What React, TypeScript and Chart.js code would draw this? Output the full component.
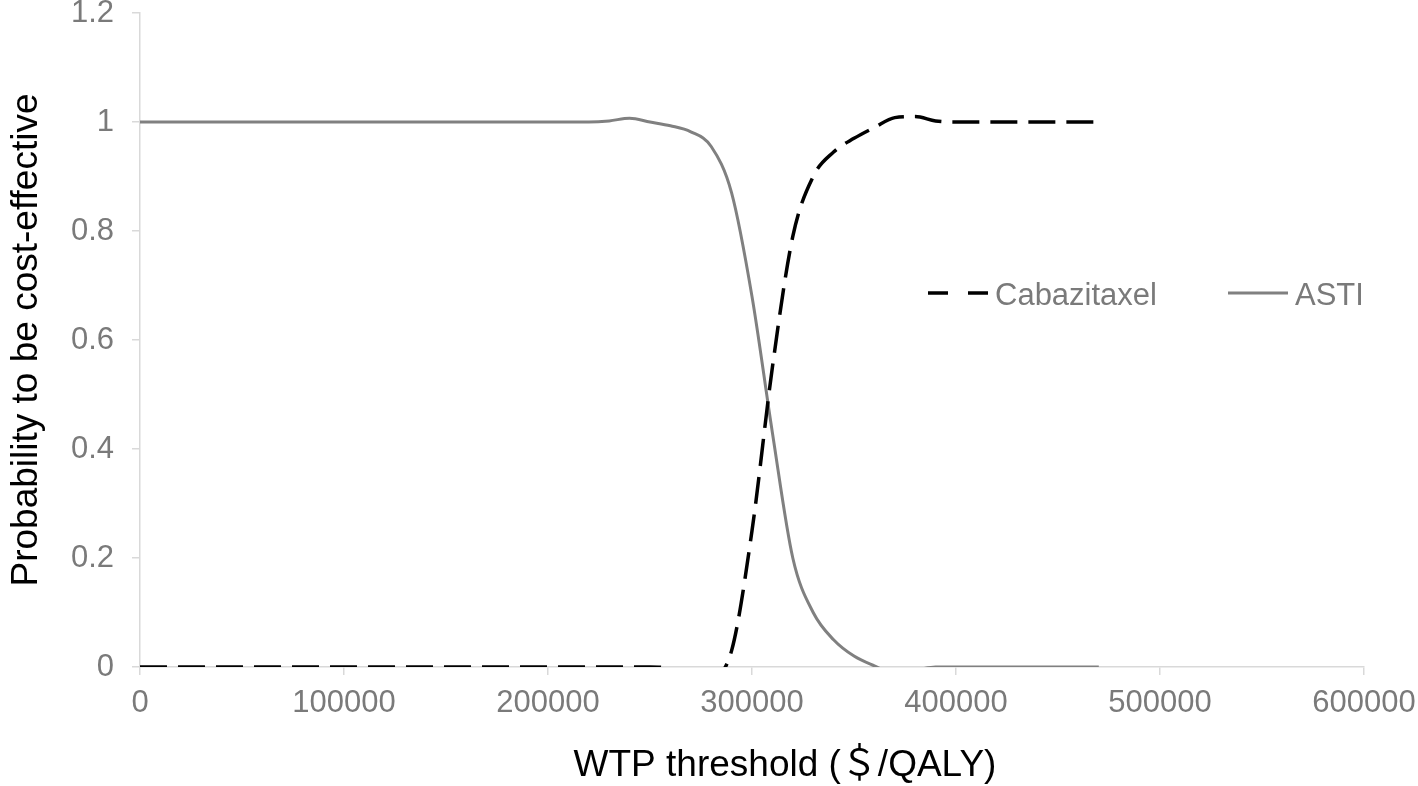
import React, { useEffect, useRef } from "react";
import { Chart, registerables } from "chart.js";

Chart.register(...registerables);

const wtp = [
  0, 10000, 20000, 30000, 40000, 50000, 60000, 70000, 80000, 90000,
  100000, 110000, 120000, 130000, 140000, 150000, 160000, 170000, 180000, 190000,
  200000, 210000, 220000, 230000, 240000, 250000, 260000, 270000, 280000, 290000,
  300000, 310000, 320000, 330000, 340000, 350000, 360000, 370000, 380000, 390000,
  400000, 410000, 420000, 430000, 440000, 450000, 460000, 470000,
];

const cabazitaxel = [
  0, 0, 0, 0, 0, 0, 0, 0, 0, 0,
  0, 0, 0, 0, 0, 0, 0, 0, 0, 0,
  0, 0, 0, 0, 0, 0, -0.004, -0.025, -0.02, 0.03,
  0.25, 0.55, 0.79, 0.9, 0.945, 0.97, 0.99, 1.008, 1.01, 1.002,
  1, 1, 1, 1, 1, 1, 1, 1,
];

const asti = [
  1, 1, 1, 1, 1, 1, 1, 1, 1, 1,
  1, 1, 1, 1, 1, 1, 1, 1, 1, 1,
  1, 1, 1, 1.002, 1.007, 1.0, 0.993, 0.982, 0.955, 0.87,
  0.68, 0.43, 0.2, 0.1, 0.05, 0.02, 0.002, -0.012, -0.006, 0,
  0, 0, 0, 0, 0, 0, 0, 0,
];

const seriesNames = ["Cabazitaxel", "ASTI"];
const xTitle = "WTP threshold (＄/QALY)";
const yTitle = "Probability to be cost-effective";

const FONT = '"Liberation Sans", Arial, "Noto Sans CJK SC", sans-serif';
const GRAY = "#7a7a7a";
const AXIS = "#d9d9d9";

const customText = {
  id: "customText",
  afterDraw(chart: any) {
    const ctx = chart.ctx;
    ctx.save();
    // x axis title
    ctx.fillStyle = "#000";
    ctx.font = `37px ${FONT}`;
    ctx.textAlign = "center";
    ctx.textBaseline = "alphabetic";
    ctx.fillText(xTitle, 785, 776);

    // legend
    const ly = 293;
    ctx.lineCap = "butt";
    ctx.strokeStyle = "#000";
    ctx.lineWidth = 3.5;
    ctx.setLineDash([20, 20]);
    ctx.beginPath();
    ctx.moveTo(928, ly);
    ctx.lineTo(988, ly);
    ctx.stroke();
    ctx.setLineDash([]);
    ctx.strokeStyle = "#808080";
    ctx.lineWidth = 3;
    ctx.beginPath();
    ctx.moveTo(1228, ly);
    ctx.lineTo(1288, ly);
    ctx.stroke();

    ctx.fillStyle = GRAY;
    ctx.font = `31px ${FONT}`;
    ctx.textAlign = "left";
    ctx.fillText(seriesNames[0], 995, 305);
    ctx.fillText(seriesNames[1], 1295, 305);
    ctx.restore();
  },
};

export default function App() {
  const ref = useRef<HTMLCanvasElement | null>(null);

  useEffect(() => {
    if (!ref.current) return;
    const chart = new Chart(ref.current, {
      type: "line",
      data: {
        datasets: [
          {
            label: seriesNames[0],
            data: wtp.map((x, i) => ({ x, y: cabazitaxel[i] })),
            borderColor: "#000000",
            borderWidth: 3.5,
            borderDash: [27, 11],
            pointRadius: 0,
            cubicInterpolationMode: "monotone",
            fill: false,
          },
          {
            label: seriesNames[1],
            data: wtp.map((x, i) => ({ x, y: asti[i] })),
            borderColor: "#808080",
            borderWidth: 3,
            pointRadius: 0,
            cubicInterpolationMode: "monotone",
            fill: false,
          },
        ],
      },
      options: {
        responsive: true,
        maintainAspectRatio: false,
        animation: false,
        layout: { padding: { top: 13, right: 54, left: 0, bottom: 0 } },
        plugins: {
          legend: { display: false },
          tooltip: { enabled: false },
        },
        scales: {
          x: {
            type: "linear",
            min: 0,
            max: 600000,
            afterFit(scale: any) {
              scale.height = 119;
              scale.paddingLeft = 0;
              scale.paddingRight = 0;
            },
            ticks: {
              stepSize: 100000,
              color: GRAY,
              padding: 10,
              font: { family: FONT, size: 31 },
              callback: (v: any) => String(v),
              maxRotation: 0,
              autoSkip: false,
            },
            grid: {
              display: true,
              drawOnChartArea: false,
              drawTicks: true,
              tickLength: 8,
              color: AXIS,
              lineWidth: 1.5,
            },
            border: { display: true, color: AXIS, width: 1.5 },
            title: { display: false },
          },
          y: {
            type: "linear",
            min: 0,
            max: 1.2,
            afterFit(scale: any) {
              scale.width = 140;
              scale.paddingTop = 0;
              scale.paddingBottom = 0;
            },
            ticks: {
              stepSize: 0.2,
              color: GRAY,
              padding: 18,
              font: { family: FONT, size: 31 },
              callback: (v: any) => String(Math.round(Number(v) * 10) / 10),
            },
            grid: {
              display: true,
              drawOnChartArea: false,
              drawTicks: true,
              tickLength: 8,
              color: AXIS,
              lineWidth: 1.5,
            },
            border: { display: true, color: AXIS, width: 1.5 },
            title: {
              display: true,
              text: yTitle,
              color: "#000",
              font: { family: FONT, size: 37 },
              padding: { top: 5, bottom: 0 },
            },
          },
        },
      },
      plugins: [customText],
    });
    return () => chart.destroy();
  }, []);

  return (
    <div style={{ position: "absolute", left: 0, top: 0, width: 1418, height: 786, background: "#fff" }}>
      <canvas ref={ref} />
    </div>
  );
}
